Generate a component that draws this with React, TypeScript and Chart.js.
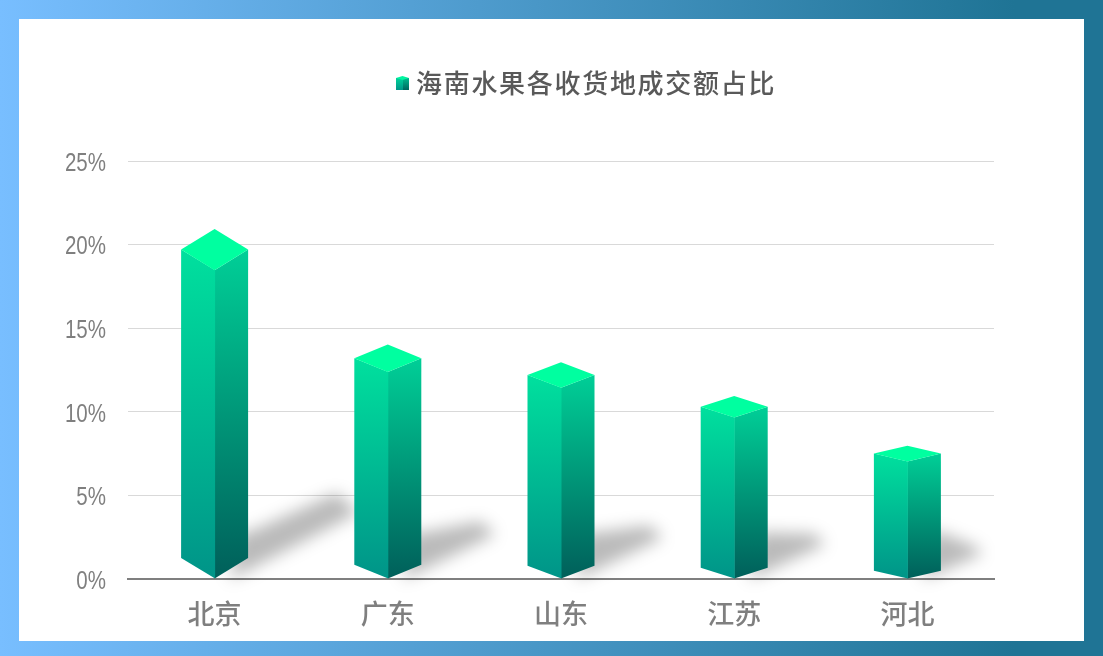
import { useEffect, useRef } from "react";
import { Chart, registerables } from "chart.js";

Chart.register(...registerables);

const CITIES = ["北京", "广东", "山东", "江苏", "河北"];
const SHARES = [19.7, 13.2, 12.2, 10.3, 7.5];
const SERIES_NAME = "海南水果各收货地成交额占比";
const CJK = '"Noto Sans CJK SC", "Noto Sans", sans-serif';

// tiny cube for the legend
function legendIcon() {
  const c = document.createElement("canvas");
  c.width = 13; c.height = 14;
  const g = c.getContext("2d")!;
  const left = g.createLinearGradient(0, 0, 0, 14);
  left.addColorStop(0, "#00dc9c"); left.addColorStop(1, "#009688");
  g.fillStyle = left; g.fillRect(0, 2, 7, 12);
  const right = g.createLinearGradient(0, 0, 0, 14);
  right.addColorStop(0, "#00c896"); right.addColorStop(1, "#00665f");
  g.fillStyle = right; g.fillRect(7, 2, 6, 12);
  g.fillStyle = "#00f5a0";
  g.beginPath(); g.moveTo(0, 2); g.lineTo(6.5, 0); g.lineTo(13, 2); g.lineTo(6.5, 4); g.closePath(); g.fill();
  return c;
}

function poly(ctx: CanvasRenderingContext2D, pts: number[][]) {
  ctx.beginPath();
  pts.forEach((p, i) => (i ? ctx.lineTo(p[0], p[1]) : ctx.moveTo(p[0], p[1])));
  ctx.closePath();
}

// the bars themselves are transparent, the prism is built on each bar's element
const prisms = {
  id: "prisms",
  afterLayout(chart: any) {
    const legend = chart.legend;
    const ctx = chart.ctx;
    legend.left += 81; legend.right += 81;
    legend.top -= 55; legend.bottom -= 55;
    // wider spacing for the legend text only
    if (!legend._spaced) {
      legend._spaced = true;
      const draw = legend.draw.bind(legend);
      legend.draw = () => { ctx.letterSpacing = "1.7px"; draw(); ctx.letterSpacing = "0px"; };
    }
    // y labels are a narrow face in the original, squeeze them towards the axis
    const yScale = chart.scales.y;
    if (!yScale._squeezed) {
      yScale._squeezed = true;
      const labels = yScale.drawLabels.bind(yScale);
      yScale.drawLabels = (area: any) => {
        ctx.save();
        ctx.translate(106, 3);
        ctx.scale(0.82, 1);
        ctx.translate(-106, 0);
        labels(area);
        ctx.restore();
      };
    }
  },
  beforeDatasetsDraw(chart: any) {
    const ctx = chart.ctx as CanvasRenderingContext2D;
    const bars = chart.getDatasetMeta(0).data;
    // shadows first, everything falls behind the bars
    ctx.save();
    ctx.filter = "blur(8px)";
    ctx.fillStyle = "rgba(0,0,0,0.27)";
    bars.forEach((b: any) => {
      const h = b.base - b.y;
      const r = b.x + b.width / 2;
      poly(ctx, [
        [r - 18, b.base + 1],
        [r - 10, b.base - 46],
        [r, b.base - 46],
        [r + h * 0.27, b.base - h * 0.26],
        [r + h * 0.335, b.base - h * 0.2],
      ]);
      ctx.fill();
    });
    ctx.restore();
    bars.forEach((b: any) => {
      const h = b.base - b.y;
      const d = h / 16;
      const l = b.x - b.width / 2, r = b.x + b.width / 2;
      const gr = ctx.createLinearGradient(0, b.y, 0, b.base);
      gr.addColorStop(0, "#00cf97"); gr.addColorStop(1, "#005f5a");
      ctx.fillStyle = gr;
      poly(ctx, [[r, b.y], [b.x, b.y + d], [b.x, b.base], [r, b.base - d]]);
      ctx.fill();
      // left face runs a hair under the seam so no white line shows
      const gl = ctx.createLinearGradient(0, b.y, 0, b.base);
      gl.addColorStop(0, "#00e09e"); gl.addColorStop(1, "#009488");
      ctx.fillStyle = gl;
      poly(ctx, [[l, b.y], [b.x + 0.5, b.y + d], [b.x + 0.5, b.base], [l, b.base - d]]);
      ctx.fill();
      ctx.fillStyle = "#00ffa0";
      poly(ctx, [[l, b.y], [b.x, b.y - d], [r, b.y], [b.x, b.y + d]]);
      ctx.fill();
    });
  },
};

export default function App() {
  const canvasRef = useRef<HTMLCanvasElement | null>(null);

  useEffect(() => {
    if (!canvasRef.current) return;
    const chart = new Chart(canvasRef.current, {
      type: "bar",
      data: {
        labels: CITIES,
        datasets: [{ label: SERIES_NAME, data: SHARES, backgroundColor: "transparent", barThickness: 67 }],
      },
      options: {
        animation: false,
        responsive: false,
        layout: { padding: { top: 100, right: 109 } },
        plugins: {
          tooltip: { enabled: false },
          legend: {
            position: "top",
            labels: {
              usePointStyle: true,
              pointStyle: legendIcon(),
              pointStyleWidth: 1,
              color: "#595959",
              font: { family: CJK, size: 26, weight: "500" },
              padding: 25,
            },
          },
        },
        scales: {
          y: {
            min: 0,
            max: 25,
            afterFit: (s: any) => { s.width = 128; },
            border: { display: false },
            grid: { color: "#d9d9d9", drawTicks: false },
            ticks: {
              stepSize: 5,
              padding: 22,
              color: "#7f7f7f",
              font: { family: '"Liberation Sans", sans-serif', size: 25 },
              callback: (v: any) => v + "%",
            },
          },
          x: {
            afterFit: (s: any) => { s.height = 77; },
            border: { color: "#7f7f7f", width: 2 },
            grid: { display: false },
            ticks: {
              padding: 11,
              color: "#7f7f7f",
              font: { family: CJK, size: 27, weight: "500" },
            },
          },
        },
      },
      plugins: [prisms],
    } as any);
    return () => chart.destroy();
  }, []);

  return (
    <div style={{ position: "fixed", left: 0, top: 0, width: 1103, height: 656, background: "linear-gradient(90deg,#78beff 0%,#1f7495 92%)" }}>
      <div style={{ position: "absolute", left: 19, top: 19, width: 1065, height: 622, background: "#fff" }} />
      <canvas ref={canvasRef} width={1103} height={656} style={{ position: "absolute", left: 0, top: 0 }} />
    </div>
  );
}
